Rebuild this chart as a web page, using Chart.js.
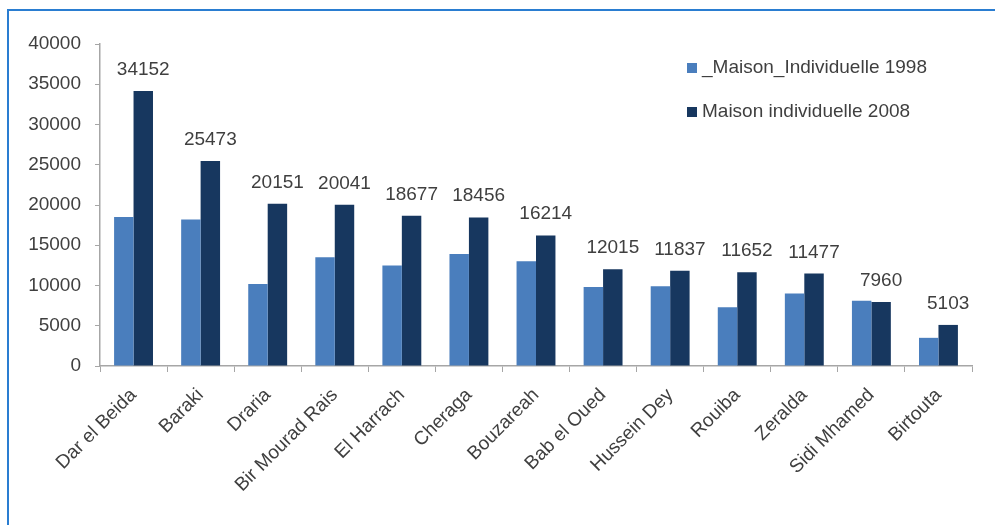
<!DOCTYPE html>
<html>
<head>
<meta charset="utf-8">
<script src="https://cdn.jsdelivr.net/npm/chart.js@4/dist/chart.umd.min.js"></script>
<style>
    html, body { margin: 0; padding: 0; background: #fff; overflow: hidden; }
    #frame {
        position: absolute; left: 7px; top: 9px; width: 1000px; height: 530px;
        border-top: 2px solid #2a7dd1; border-left: 2px solid #2a7dd1;
    }
    #wrap { position: absolute; left: 0; top: 0; width: 995px; height: 525px; }
</style>
</head>
<body>
<div id="frame"></div>
<div id="wrap"><canvas id="bar-chart"></canvas></div>
<script>
var communes = ["Dar el Beida", "Baraki", "Draria", "Bir Mourad Rais", "El Harrach", "Cheraga",
    "Bouzareah", "Bab el Oued", "Hussein Dey", "Rouiba", "Zeralda", "Sidi Mhamed", "Birtouta"];
var maisons1998 = [18500, 18200, 10200, 13500, 12500, 13900, 13000, 9800, 9900, 7300, 9000, 8100, 3500];
var maisons2008 = [34152, 25473, 20151, 20041, 18677, 18456, 16214, 12015, 11837, 11652, 11477, 7960, 5103];
var yTicks = [0, 5000, 10000, 15000, 20000, 25000, 30000, 35000, 40000];

var textColor = '#3f3f3f';
var axisColor = '#a6a6a6';
var font = { family: 'Liberation Sans, Arial, sans-serif', size: 19 };

// value labels on top of the 2008 bars
var valueLabels = {
    id: 'valueLabels',
    afterDatasetsDraw: function (chart) {
        var ctx = chart.ctx;
        var meta = chart.getDatasetMeta(1);
        ctx.save();
        ctx.font = font.size + 'px ' + font.family;
        ctx.fillStyle = textColor;
        ctx.textAlign = 'center';
        ctx.textBaseline = 'alphabetic';
        meta.data.forEach(function (bar, i) {
            ctx.fillText(String(chart.data.datasets[1].data[i]), bar.x, bar.y - 16);
        });
        ctx.restore();
    }
};

// legend drawn inside the plot, top right
var insideLegend = {
    id: 'insideLegend',
    afterDraw: function (chart) {
        var ctx = chart.ctx;
        ctx.save();
        ctx.font = font.size + 'px ' + font.family;
        ctx.textBaseline = 'middle';
        ctx.textAlign = 'left';
        chart.data.datasets.forEach(function (ds, i) {
            var y = 68 + i * 44;
            ctx.fillStyle = ds.backgroundColor;
            ctx.fillRect(687, y - 5, 10, 10);
            ctx.fillStyle = textColor;
            ctx.fillText(ds.label, 702, y);
        });
        ctx.restore();
    }
};

new Chart(document.getElementById("bar-chart"), {
    type: 'bar',
    data: {
        labels: communes,
        datasets: [{
            label: "_Maison_Individuelle 1998",
            backgroundColor: "#4a7ebd",
            data: maisons1998
        }, {
            label: "Maison individuelle 2008",
            backgroundColor: "#17375f",
            data: maisons2008
        }]
    },
    options: {
        responsive: true,
        maintainAspectRatio: false,
        animation: false,
        events: [],
        layout: { padding: { left: 0, right: 23, top: 44, bottom: 0 } },
        datasets: { bar: { categoryPercentage: 0.58, barPercentage: 1 } },
        plugins: {
            legend: { display: false },
            tooltip: { enabled: false }
        },
        scales: {
            x: {
                afterFit: function (axis) { axis.height = 159; },
                border: { color: axisColor, width: 1.5 },
                grid: { drawOnChartArea: false, drawTicks: true, tickLength: 6, color: axisColor, offset: true },
                ticks: { color: textColor, font: font, minRotation: 45, maxRotation: 45, padding: 12 }
            },
            y: {
                min: 0,
                max: 40000,
                afterFit: function (axis) { axis.width = 100; },
                afterBuildTicks: function (axis) {
                    axis.ticks = yTicks.map(function (v) { return { value: v }; });
                },
                border: { color: axisColor, width: 1.5 },
                grid: { drawOnChartArea: false, drawTicks: true, tickLength: 5, color: axisColor },
                ticks: {
                    color: textColor, font: font, padding: 14,
                    callback: function (value) { return String(value); }
                }
            }
        }
    },
    plugins: [valueLabels, insideLegend]
});
</script>
</body>
</html>
